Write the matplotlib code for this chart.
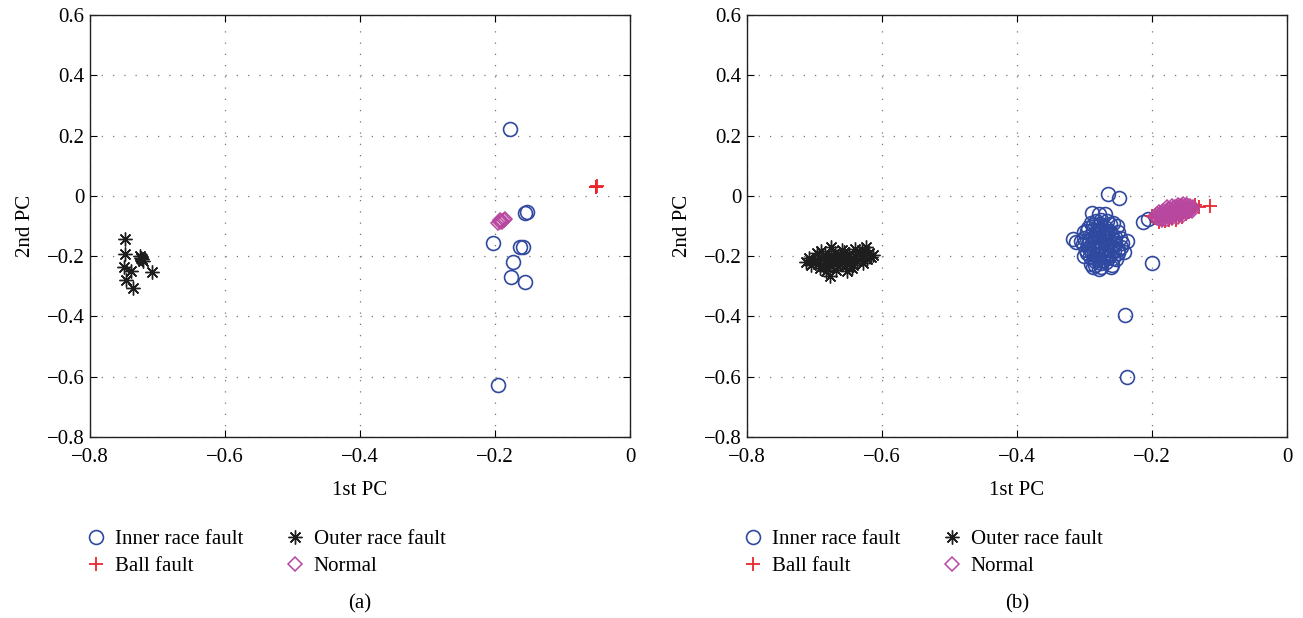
import matplotlib
matplotlib.use("Agg")
import matplotlib.pyplot as plt

plt.rcParams['font.family'] = ['Liberation Serif', 'DejaVu Serif']

# Panel (a)
a_inner_x = [-0.178, -0.155, -0.152, -0.2025, -0.163, -0.158, -0.174, -0.176, -0.156, -0.195]
a_inner_y = [0.221, -0.058, -0.055, -0.157, -0.169, -0.169, -0.2195, -0.268, -0.285, -0.628]
a_outer_x = [-0.748, -0.748, -0.726, -0.724, -0.723, -0.721, -0.749, -0.739, -0.708, -0.746, -0.736]
a_outer_y = [-0.144, -0.194, -0.200, -0.205, -0.210, -0.215, -0.235, -0.249, -0.254, -0.279, -0.307]
a_ball_x = [-0.050, -0.049, -0.051]
a_ball_y = [0.030, 0.032, 0.029]
a_norm_x = [-0.196, -0.193, -0.190, -0.187, -0.185, -0.192, -0.189]
a_norm_y = [-0.090, -0.086, -0.083, -0.080, -0.078, -0.081, -0.088]

# Panel (b)
b_inner_x = [-0.265, -0.249, -0.213, -0.206, -0.200, -0.240, -0.237,
             -0.317, -0.312, -0.289, -0.279, -0.270, -0.237, -0.242, -0.261, -0.287, -0.279,
             -0.300, -0.295, -0.290, -0.283, -0.275, -0.266, -0.258, -0.252, -0.300, -0.302,
             -0.298, -0.292, -0.285, -0.276, -0.268, -0.258, -0.250, -0.246, -0.248, -0.250,
             -0.290, -0.285, -0.280, -0.275, -0.270, -0.265, -0.260, -0.278, -0.268, -0.288,
             -0.262, -0.272, -0.282, -0.295, -0.255, -0.258, -0.283, -0.273, -0.263, -0.293,
             -0.278, -0.268, -0.286, -0.296, -0.305, -0.253, -0.245, -0.262, -0.280, -0.297,
             -0.276, -0.290,
             -0.287, -0.281, -0.274, -0.267, -0.261, -0.255, -0.291, -0.284, -0.277, -0.270,
             -0.264, -0.257, -0.289, -0.282, -0.275, -0.269, -0.262, -0.256, -0.294, -0.287,
             -0.280, -0.273, -0.266, -0.259, -0.284, -0.277, -0.271, -0.265, -0.300, -0.251]
b_inner_y = [0.006, -0.006, -0.086, -0.078, -0.224, -0.396, -0.600,
             -0.144, -0.152, -0.056, -0.061, -0.061, -0.150, -0.185, -0.237, -0.236, -0.243,
             -0.120, -0.105, -0.090, -0.085, -0.080, -0.083, -0.090, -0.100, -0.140, -0.160,
             -0.180, -0.200, -0.215, -0.222, -0.218, -0.205, -0.190, -0.170, -0.140, -0.120,
             -0.130, -0.150, -0.170, -0.190, -0.140, -0.160, -0.130, -0.110, -0.105, -0.175,
             -0.180, -0.200, -0.195, -0.160, -0.155, -0.170, -0.125, -0.125, -0.115, -0.145,
             -0.150, -0.175, -0.205, -0.190, -0.150, -0.210, -0.155, -0.095, -0.100, -0.115,
             -0.235, -0.225,
             -0.112, -0.118, -0.113, -0.120, -0.128, -0.135, -0.162, -0.138, -0.162, -0.150,
             -0.143, -0.147, -0.188, -0.182, -0.165, -0.188, -0.195, -0.182, -0.172, -0.098,
             -0.208, -0.212, -0.198, -0.228, -0.228, -0.092, -0.135, -0.205, -0.200, -0.178]
b_outer_x = [-0.712, -0.675, -0.623, -0.613, -0.677, -0.652, -0.697,
             -0.700, -0.695, -0.690, -0.688, -0.685, -0.682, -0.680, -0.676, -0.673, -0.670,
             -0.668, -0.665, -0.662, -0.660, -0.657, -0.655, -0.652, -0.649, -0.646, -0.643,
             -0.640, -0.637, -0.634, -0.631, -0.628, -0.625, -0.622, -0.619, -0.616, -0.692,
             -0.705, -0.683, -0.668, -0.645, -0.630, -0.660, -0.690, -0.708, -0.640, -0.655,
             -0.675, -0.662]
b_outer_y = [-0.220, -0.169, -0.169, -0.196, -0.266, -0.248, -0.191,
             -0.215, -0.225, -0.205, -0.230, -0.195, -0.215, -0.238, -0.200, -0.222, -0.188,
             -0.210, -0.232, -0.198, -0.218, -0.185, -0.205, -0.226, -0.192, -0.212, -0.230,
             -0.198, -0.215, -0.186, -0.205, -0.222, -0.195, -0.210, -0.188, -0.202, -0.240,
             -0.228, -0.250, -0.245, -0.240, -0.180, -0.178, -0.182, -0.205, -0.175, -0.215,
             -0.212, -0.225]
b_ball_x = [-0.114, -0.131, -0.137, -0.140, -0.145, -0.150, -0.160, -0.170, -0.175,
            -0.185, -0.195, -0.200, -0.190, -0.165, -0.180, -0.155]
b_ball_y = [-0.033, -0.036, -0.030, -0.045, -0.055, -0.060, -0.068, -0.074, -0.080,
            -0.078, -0.072, -0.066, -0.086, -0.080, -0.084, -0.070]
b_norm_x = [-0.195, -0.188, -0.181, -0.174, -0.167, -0.160, -0.153, -0.146, -0.139,
            -0.190, -0.183, -0.176, -0.169, -0.162, -0.155, -0.148,
            -0.190, -0.183, -0.176, -0.169, -0.162, -0.155, -0.148, -0.141,
            -0.178, -0.170, -0.162, -0.154, -0.185, -0.178, -0.170, -0.162, -0.154,
            -0.192, -0.185, -0.172, -0.158, -0.144,
            -0.192, -0.186, -0.179, -0.172, -0.165, -0.158, -0.151, -0.144,
            -0.186, -0.179, -0.172, -0.165, -0.158, -0.151, -0.144, -0.140,
            -0.174, -0.166, -0.158, -0.150, -0.181, -0.174, -0.166]
b_norm_y = [-0.067, -0.063, -0.060, -0.056, -0.052, -0.048, -0.045, -0.041, -0.037,
            -0.053, -0.049, -0.045, -0.041, -0.037, -0.033, -0.030,
            -0.076, -0.073, -0.069, -0.065, -0.061, -0.057, -0.054, -0.050,
            -0.037, -0.033, -0.029, -0.026, -0.080, -0.077, -0.073, -0.069, -0.065,
            -0.060, -0.056, -0.050, -0.042, -0.046,
            -0.072, -0.068, -0.064, -0.061, -0.057, -0.053, -0.050, -0.046,
            -0.058, -0.054, -0.050, -0.047, -0.043, -0.039, -0.035, -0.043,
            -0.042, -0.038, -0.034, -0.031, -0.071, -0.067, -0.063]

ticks_x = [-0.8, -0.6, -0.4, -0.2, 0]
ticks_x_lab = ["\u22120.8", "\u22120.6", "\u22120.4", "\u22120.2", "0"]
ticks_y = [-0.8, -0.6, -0.4, -0.2, 0, 0.2, 0.4, 0.6]
ticks_y_lab = ["\u22120.8", "\u22120.6", "\u22120.4", "\u22120.2", "0", "0.2", "0.4", "0.6"]

c_blue = '#3049a0'
c_red = '#e8262b'
c_mag = '#b8479f'
c_blk = '#1e1e1e'
star = (8, 2, 0)
fs = 15

fig = plt.figure(figsize=(13.03, 6.18), dpi=100)
ax1 = fig.add_axes([0.0691, 0.2929, 0.4144, 0.6828])
ax2 = fig.add_axes([0.5733, 0.2929, 0.4144, 0.6828])

panels = [
    (ax1, a_inner_x, a_inner_y, a_outer_x, a_outer_y, a_ball_x, a_ball_y, a_norm_x, a_norm_y, "(a)"),
    (ax2, b_inner_x, b_inner_y, b_outer_x, b_outer_y, b_ball_x, b_ball_y, b_norm_x, b_norm_y, "(b)"),
]

for ax, ix, iy, ox, oy, bx, by, nx, ny, cap in panels:
    h1, = ax.plot(ix, iy, 'o', ls='none', ms=10, mfc='none', mec=c_blue, mew=1.2)
    h2, = ax.plot(ox, oy, marker=star, ls='none', ms=10, mec=c_blk, mfc=c_blk, mew=1.0)
    h3, = ax.plot(bx, by, '+', ls='none', ms=10, mec=c_red, mew=1.3)
    h4, = ax.plot(nx, ny, 'D', ls='none', ms=7, mfc='none', mec=c_mag, mew=1.1)
    ax.set_xlim(-0.8, 0)
    ax.set_ylim(-0.8, 0.6)
    ax.set_xticks(ticks_x)
    ax.set_xticklabels(ticks_x_lab)
    ax.set_yticks(ticks_y)
    ax.set_yticklabels(ticks_y_lab)
    ax.tick_params(direction='in', length=5, width=0.8, top=True, right=True, labelsize=fs, pad=4)
    ax.tick_params(axis='x', pad=8)
    ax.grid(True, color='#777777', linestyle=(0, (1, 8)), linewidth=0.9)
    for s in ax.spines.values():
        s.set_linewidth(1.0)
        s.set_color('#222222')
    ax.set_xlabel("1st PC", fontsize=fs, labelpad=10)
    ax.set_ylabel("2nd PC", fontsize=fs, labelpad=8)
    ax.legend([h1, h3, h2, h4], ["Inner race fault", "Ball fault", "Outer race fault", "Normal"],
              ncol=2, frameon=False, fontsize=fs, loc='upper left',
              bbox_to_anchor=(-0.047, -0.175), handletextpad=0.3, columnspacing=1.9,
              labelspacing=0.35, handlelength=1.2)
    ax.text(0.5, -0.395, cap, transform=ax.transAxes, ha='center', va='center', fontsize=fs)

fig.savefig("out.png", dpi=100)
